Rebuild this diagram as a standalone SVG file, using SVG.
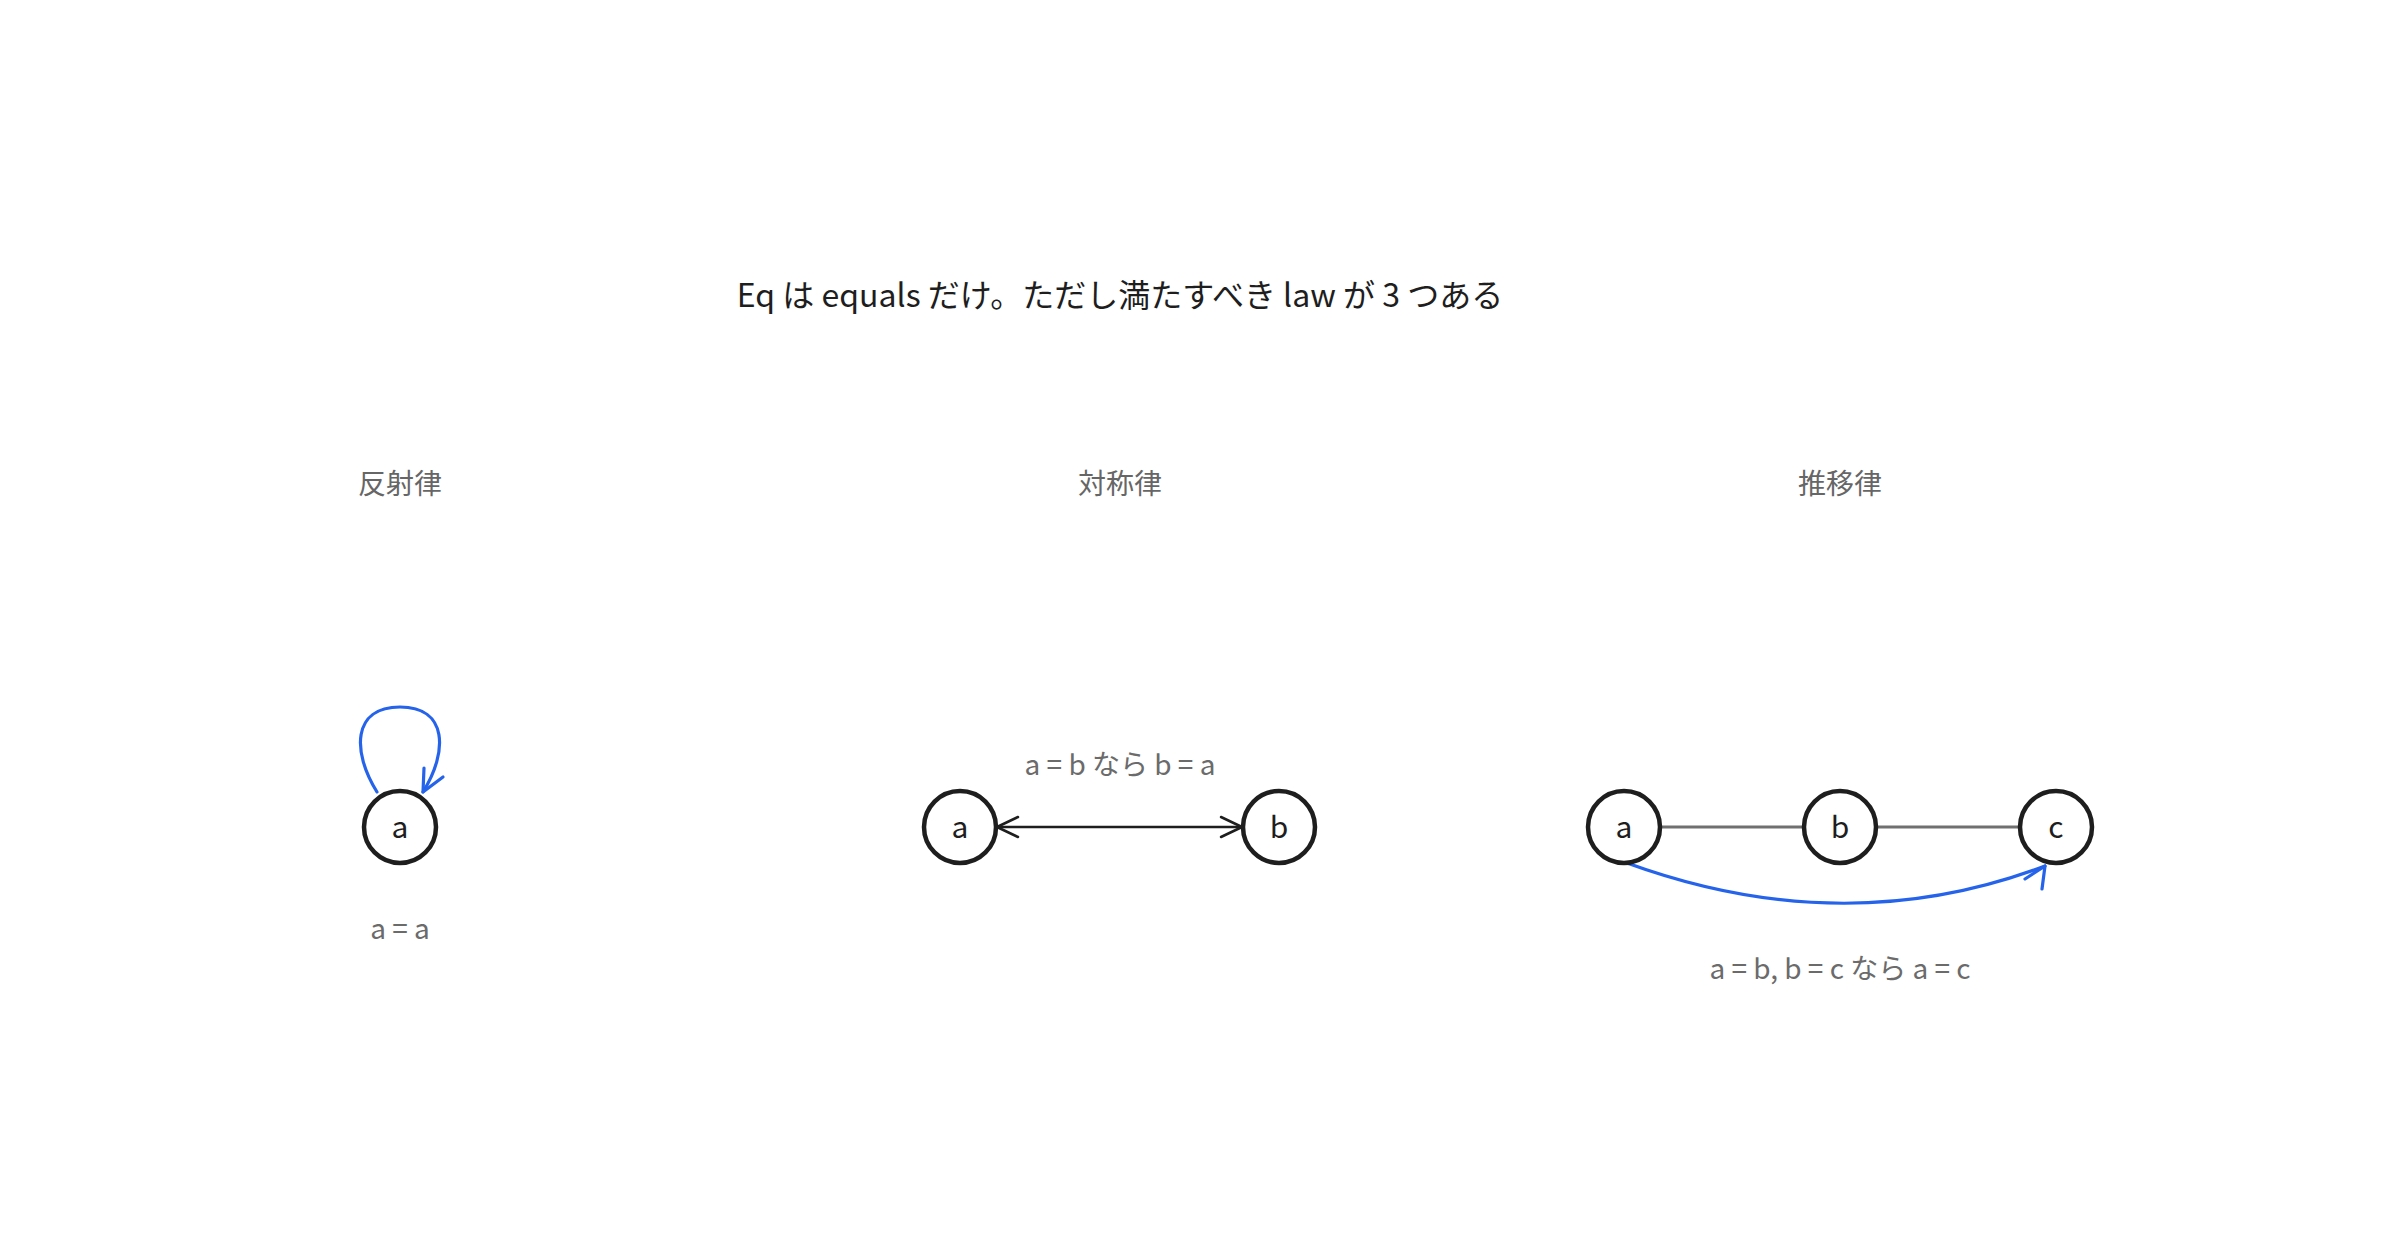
<svg xmlns="http://www.w3.org/2000/svg" width="2400" height="1260" viewBox="0 0 2400 1260">
  <style>
    text { font-family: "Noto Sans CJK JP", "Noto Sans", sans-serif; }
    .title { font-size: 32px; fill: #1e1e1e; text-anchor: middle; }
    .head { font-size: 28px; fill: #666666; text-anchor: middle; }
    .label { font-size: 28px; fill: #6b6b6b; text-anchor: middle; }
    .node circle { fill: #ffffff; stroke: #1e1e1e; stroke-width: 4.5; }
    .node text { font-size: 30px; fill: #1e1e1e; text-anchor: middle; }
    .blue { fill: none; stroke: #2563eb; stroke-width: 3.2; stroke-linecap: round; stroke-linejoin: round; }
    .black { fill: none; stroke: #1e1e1e; stroke-width: 2.5; stroke-linecap: round; stroke-linejoin: round; }
    .grey { fill: none; stroke: #707070; stroke-width: 3; stroke-linecap: round; }
  </style>
  <rect width="2400" height="1260" fill="#ffffff"/>

  <text class="title" x="1120" y="307">Eq は equals だけ。ただし満たすべき law が 3 つある</text>

  <g id="headers">
    <text class="head" x="400" y="494">反射律</text>
    <text class="head" x="1120" y="494">対称律</text>
    <text class="head" x="1840" y="494">推移律</text>
  </g>

  <g id="connectors">
    <!-- reflexive loop -->
    <path class="blue" d="M 377 792 C 352 752, 352 707, 400 707 C 448 707, 448 752, 423 792"/>
    <path class="blue" d="M 424 768 L 423 792 L 443 777"/>
    <!-- symmetric double arrow -->
    <path class="black" d="M 997 827 L 1242 827"/>
    <path class="black" d="M 1018 817 L 997 827 L 1018 837"/>
    <path class="black" d="M 1221 817 L 1242 827 L 1221 837"/>
    <!-- transitive -->
    <path class="grey" d="M 1662 827 L 1802 827"/>
    <path class="grey" d="M 1878 827 L 2018 827"/>
    <path class="blue" d="M 1627 863 Q 1844 942 2045 866"/>
    <path class="blue" d="M 2025 879 L 2045 866 L 2042 889"/>
  </g>

  <g id="node-refl-a" class="node">
    <circle cx="400" cy="827" r="36"/>
    <text x="400" y="838">a</text>
  </g>
  <g id="node-sym-a" class="node">
    <circle cx="960" cy="827" r="36"/>
    <text x="960" y="838">a</text>
  </g>
  <g id="node-sym-b" class="node">
    <circle cx="1279" cy="827" r="36"/>
    <text x="1279" y="838">b</text>
  </g>
  <g id="node-trans-a" class="node">
    <circle cx="1624" cy="827" r="36"/>
    <text x="1624" y="838">a</text>
  </g>
  <g id="node-trans-b" class="node">
    <circle cx="1840" cy="827" r="36"/>
    <text x="1840" y="838">b</text>
  </g>
  <g id="node-trans-c" class="node">
    <circle cx="2056" cy="827" r="36"/>
    <text x="2056" y="838">c</text>
  </g>

  <g id="labels">
    <text class="label" x="400" y="939">a = a</text>
    <text class="label" x="1120" y="775">a = b なら b = a</text>
    <text class="label" x="1840" y="979">a = b, b = c なら a = c</text>
  </g>
</svg>
